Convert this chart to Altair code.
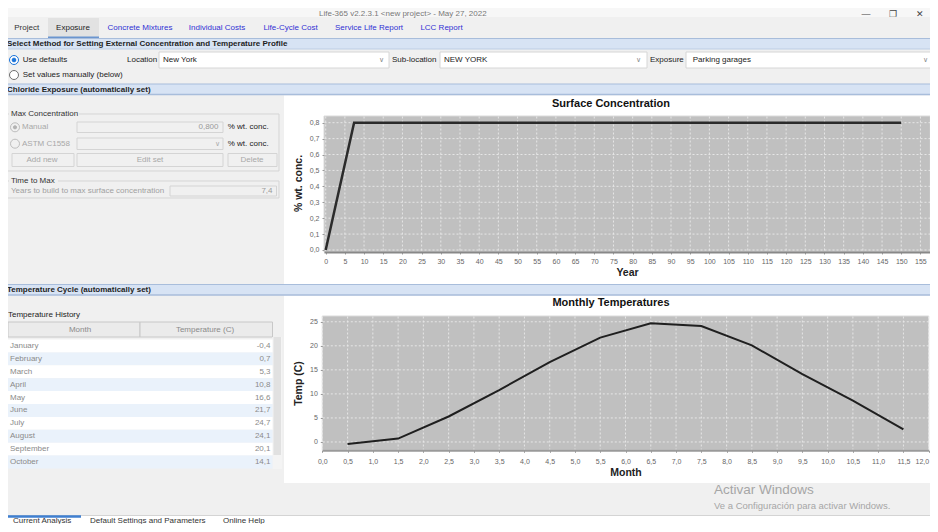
import altair as alt
import pandas as pd

# ---------------- chart data ----------------
years = [0.0, 7.4, 150.0]
surface_conc = [0.0, 0.8, 0.8]
year_ticks = [0, 5, 10, 15, 20, 25, 30, 35, 40, 45, 50, 55, 60, 65, 70, 75, 80,
              85, 90, 95, 100, 105, 110, 115, 120, 125, 130, 135, 140, 145, 150, 155]
conc_ticks = [0.0, 0.1, 0.2, 0.3, 0.4, 0.5, 0.6, 0.7, 0.8]

month_names = ["January", "February", "March", "April", "May", "June",
               "July", "August", "September", "October", "November", "December"]
month_pos = [0.5, 1.5, 2.5, 3.5, 4.5, 5.5, 6.5, 7.5, 8.5, 9.5, 10.5, 11.5]
temps = [-0.4, 0.7, 5.3, 10.8, 16.6, 21.7, 24.7, 24.1, 20.1, 14.1, 8.6, 2.6]
month_ticks = [0.0, 0.5, 1.0, 1.5, 2.0, 2.5, 3.0, 3.5, 4.0, 4.5, 5.0, 5.5, 6.0,
               6.5, 7.0, 7.5, 8.0, 8.5, 9.0, 9.5, 10.0, 10.5, 11.0, 11.5, 12.0]
temp_ticks = [0, 5, 10, 15, 20, 25]
visible_rows = 10

# ---------------- layout (page pixels of the reference window) ----------------
W, H, OFF = 922, 516, 8
FONT = "Liberation Sans"


def P(v):
    return round(v - OFF, 2)


max_conc_label = f"{max(surface_conc):.3f}".replace(".", ",")
time_to_max_label = f"{years[1]:.1f}".replace(".", ",")

rect_rows = [
    (0, 0, 938, 17, "#f7f7f7", "#f7f7f7", 0),
    (48, 18, 99, 38, "#e2e2e2", "#e2e2e2", 0),
    (0, 38.5, 938, 49, "#d7e3f4", "#d7e3f4", 0),
    (0, 84, 938, 94.5, "#d7e3f4", "#d7e3f4", 0),
    (0, 284.5, 938, 295, "#d7e3f4", "#d7e3f4", 0),
    (159, 52, 389, 68, "#ffffff", "#d6d6d6", 1),
    (440, 52, 647, 68, "#ffffff", "#d6d6d6", 1),
    (686, 52, 936, 68, "#ffffff", "#d6d6d6", 1),
    (284, 95.5, 938, 284, "#ffffff", "#ffffff", 0),
    (284, 295.5, 938, 483, "#ffffff", "#ffffff", 0),
    (324, 116, 930.3, 252, "#c0c0c0", "#dadada", 1),
    (322.3, 316, 928.7, 450.3, "#c0c0c0", "#dadada", 1),
    (7, 114, 279, 171, "transparent", "#d5d5d5", 1),
    (9, 109, 79, 119, "#f0f0f0", "#f0f0f0", 0),
    (7, 181, 279, 198, "transparent", "#d5d5d5", 1),
    (9, 176, 58, 186, "#f0f0f0", "#f0f0f0", 0),
    (77, 122, 223, 132.5, "#f0f0f0", "#d4d4d4", 1),
    (77, 138, 223, 149.5, "#f0f0f0", "#d4d4d4", 1),
    (12, 153.5, 74, 166.5, "#f0f0f0", "#d4d4d4", 1),
    (77, 153.5, 223, 166.5, "#f0f0f0", "#d4d4d4", 1),
    (228, 153.5, 277, 166.5, "#f0f0f0", "#d4d4d4", 1),
    (170, 186, 276.5, 196, "#f0f0f0", "#d4d4d4", 1),
    (8, 322, 140, 337, "#ebebeb", "#c8c8c8", 1),
    (140, 322, 272.5, 337, "#ebebeb", "#c8c8c8", 1),
    (272.5, 337, 282, 469, "#f4f4f4", "#f4f4f4", 0),
    (273.5, 337, 281, 455, "#e1e1e1", "#e1e1e1", 0),
    (0, 516, 938, 532, "#ffffff", "#ffffff", 0),
]

rule_rows = [
    (48, 37.5, 99, 37.5, "#6b95cf", 2),
    (0, 38.5, 938, 38.5, "#a8bddb", 1),
    (0, 49, 938, 49, "#bccde5", 1),
    (0, 84, 938, 84, "#a8bddb", 1),
    (0, 94.5, 938, 94.5, "#a8bddb", 1.5),
    (0, 284.5, 938, 284.5, "#a8bddb", 1),
    (0, 295, 938, 295, "#a8bddb", 1.5),
    (0, 515.5, 938, 515.5, "#d4d4d4", 1),
    (6, 516.5, 81, 516.5, "#3f7fd0", 2.5),
]

circle_rows = [
    (14, 60, 81, "#ffffff", "#1a73d9"),
    (14, 60, 14, "#1a73d9", "#1a73d9"),
    (14, 75, 81, "#ffffff", "#6e6e6e"),
    (15, 127.3, 81, "#f0f0f0", "#bdbdbd"),
    (15, 127.3, 10, "#b3b3b3", "#b3b3b3"),
    (15, 143.7, 81, "#f0f0f0", "#bdbdbd"),
]

BLUE = "#3030d4"
text_rows = [
    # text, x, y, size, color, weight, align
    ("Life-365 v2.2.3.1 <new project> -  May 27, 2022", 319, 14, 8, "#777777", "normal", "left"),
    ("—", 866, 14, 9, "#444444", "normal", "center"),
    ("❐", 893, 14, 9, "#444444", "normal", "center"),
    ("✕", 920, 14, 9, "#444444", "normal", "center"),
    ("Project", 26.7, 27.7, 8, "#333333", "normal", "center"),
    ("Exposure", 73, 27.7, 8, "#222222", "normal", "center"),
    ("Concrete Mixtures", 140, 27.7, 8, BLUE, "normal", "center"),
    ("Individual Costs", 217, 27.7, 8, BLUE, "normal", "center"),
    ("Life-Cycle Cost", 290.5, 27.7, 8, BLUE, "normal", "center"),
    ("Service Life Report", 369, 27.7, 8, BLUE, "normal", "center"),
    ("LCC Report", 441.5, 27.7, 8, BLUE, "normal", "center"),
    ("Select Method for Setting External Concentration and Temperature Profile", 7, 44, 8, "#1e1e1e", "bold", "left"),
    ("Use defaults", 22.7, 60, 8, "#222222", "normal", "left"),
    ("Set values manually (below)", 22.7, 75, 8, "#222222", "normal", "left"),
    ("Location", 127, 60, 8, "#222222", "normal", "left"),
    ("New York", 163, 60, 8, "#222222", "normal", "left"),
    ("Sub-location", 392, 60, 8, "#222222", "normal", "left"),
    ("NEW YORK", 444, 60, 8, "#222222", "normal", "left"),
    ("Exposure", 650, 60, 8, "#222222", "normal", "left"),
    ("Parking garages", 692.7, 60, 8, "#222222", "normal", "left"),
    ("∨", 381.7, 60, 7, "#888888", "normal", "center"),
    ("∨", 638, 60, 7, "#888888", "normal", "center"),
    ("∨", 925, 60, 7, "#888888", "normal", "center"),
    ("Chloride Exposure  (automatically set)", 7, 89.5, 8, "#1e1e1e", "bold", "left"),
    ("Max Concentration", 11, 114, 8, "#333333", "normal", "left"),
    ("Manual", 22, 127.3, 8, "#a8a8a8", "normal", "left"),
    (max_conc_label, 218.5, 127.3, 8, "#9a9a9a", "normal", "right"),
    ("% wt. conc.", 227.7, 127.3, 8, "#222222", "normal", "left"),
    ("ASTM C1558", 22, 143.7, 8, "#a8a8a8", "normal", "left"),
    ("∨", 217, 143.7, 7, "#aaaaaa", "normal", "center"),
    ("% wt. conc.", 227.7, 143.7, 8, "#222222", "normal", "left"),
    ("Add new", 42, 160, 8, "#a8a8a8", "normal", "center"),
    ("Edit set", 150, 160, 8, "#a8a8a8", "normal", "center"),
    ("Delete", 252, 160, 8, "#a8a8a8", "normal", "center"),
    ("Time to Max", 11, 180.7, 8, "#333333", "normal", "left"),
    ("Years to build to max surface concentration", 11, 190.9, 8, "#a0a0a0", "normal", "left"),
    (time_to_max_label, 272.5, 190.9, 8, "#9a9a9a", "normal", "right"),
    ("Temperature Cycle  (automatically set)", 7, 290, 8, "#1e1e1e", "bold", "left"),
    ("Temperature History", 8, 315, 8, "#222222", "normal", "left"),
    ("Month", 80, 329.5, 8, "#8a8a8a", "normal", "center"),
    ("Temperature (C)", 205, 329.5, 8, "#8a8a8a", "normal", "center"),
    ("Surface Concentration", 611, 104, 11, "#111111", "bold", "center"),
    ("Monthly Temperatures", 611, 303, 11, "#111111", "bold", "center"),
    ("Activar Windows", 714, 490, 13.5, "#a6a6a6", "normal", "left"),
    ("Ve a Configuración para activar Windows.", 714, 506, 9.5, "#a6a6a6", "normal", "left"),
    ("Current Analysis", 13, 520.5, 8, "#333333", "normal", "left"),
    ("Default Settings and Parameters", 90, 520.5, 8, "#333333", "normal", "left"),
    ("Online Help", 223, 520.5, 8, "#333333", "normal", "left"),
]

# ---------------- decoration layers (identity pixel scales) ----------------
rdf = pd.DataFrame(rect_rows, columns=["x0", "y0", "x1", "y1", "fill", "stroke", "sw"])
for c in ["x0", "y0", "x1", "y1"]:
    rdf[c] = rdf[c].map(P)
rects = alt.Chart(rdf).mark_rect(opacity=1).encode(
    x=alt.X("x0:Q", scale=None, axis=None), x2="x1:Q",
    y=alt.Y("y0:Q", scale=None, axis=None), y2="y1:Q",
    fill=alt.Fill("fill:N", scale=None, legend=None),
    stroke=alt.Stroke("stroke:N", scale=None, legend=None),
    strokeWidth=alt.StrokeWidth("sw:Q", scale=None, legend=None),
)

ldf = pd.DataFrame(rule_rows, columns=["x0", "y0", "x1", "y1", "col", "sw"])
for c in ["x0", "y0", "x1", "y1"]:
    ldf[c] = ldf[c].map(P)
rules = alt.Chart(ldf).mark_rule().encode(
    x=alt.X("x0:Q", scale=None, axis=None), x2="x1:Q",
    y=alt.Y("y0:Q", scale=None, axis=None), y2="y1:Q",
    color=alt.Color("col:N", scale=None, legend=None),
    strokeWidth=alt.StrokeWidth("sw:Q", scale=None, legend=None),
)

cdf = pd.DataFrame(circle_rows, columns=["cx", "cy", "sz", "fill", "stroke"])
cdf["cx"] = cdf["cx"].map(P)
cdf["cy"] = cdf["cy"].map(P)
circles = alt.Chart(cdf).mark_point(shape="circle", filled=True, opacity=1, strokeWidth=1).encode(
    x=alt.X("cx:Q", scale=None, axis=None),
    y=alt.Y("cy:Q", scale=None, axis=None),
    size=alt.Size("sz:Q", scale=None, legend=None),
    fill=alt.Fill("fill:N", scale=None, legend=None),
    stroke=alt.Stroke("stroke:N", scale=None, legend=None),
)

tdf = pd.DataFrame(text_rows, columns=["t", "tx", "ty", "fs", "col", "wt", "al"])
tdf["tx"] = tdf["tx"].map(P)
tdf["ty"] = tdf["ty"].map(P)
text_layers = []
for (wt, al), g in tdf.groupby(["wt", "al"]):
    text_layers.append(
        alt.Chart(g.reset_index(drop=True)).mark_text(
            font=FONT, fontWeight=wt, align=al, baseline="middle"
        ).encode(
            x=alt.X("tx:Q", scale=None, axis=None),
            y=alt.Y("ty:Q", scale=None, axis=None),
            text="t:N",
            color=alt.Color("col:N", scale=None, legend=None),
            size=alt.Size("fs:Q", scale=None, legend=None),
        )
    )

# ---------------- data scales ----------------
x1 = alt.Scale(domain=[-0.44, 157.5], range=[P(324), P(930)], nice=False, zero=False)
y1 = alt.Scale(domain=[-0.0126, 0.842], range=[P(252), P(116)], nice=False, zero=False)
x2s = alt.Scale(domain=[0, 12], range=[P(322.3), P(928.7)], nice=False, zero=False)
y2s = alt.Scale(domain=[-1.73, 26.2], range=[P(450.3), P(316)], nice=False, zero=False)
tbl = alt.Scale(domain=[0, visible_rows], range=[P(339.5), P(468.5)], nice=False, zero=False)

common = dict(
    zindex=1, grid=False, labelFont=FONT, labelFontSize=7, labelColor="#666666",
    tickColor="#9a9a9a", tickSize=2, titleFont=FONT, titleFontSize=10.5,
    titleFontWeight="bold", titleColor="#222222", labelOverlap=False,
    labelFlush=False, labelBound=False,
)
comma1 = "replace(format(datum.value, '.1f'), '.', ',')"

ax_x1 = alt.Axis(orient="bottom", offset=P(252) - H, values=year_ticks, format="d",
                 domain=True, domainColor="#888888", domainWidth=2, labelPadding=3,
                 title="Year", titleY=20.5, titleBaseline="middle", **common)
ax_y1 = alt.Axis(orient="left", offset=-P(324), values=conc_ticks, labelExpr=comma1,
                 domain=False, labelPadding=3, title="% wt. conc.",
                 titleX=-26, titleY=P(183), titleAngle=270, titleBaseline="middle", **common)
ax_x2 = alt.Axis(orient="bottom", offset=P(450.3) - H, values=month_ticks, labelExpr=comma1,
                 labelAlign={"condition": {"test": "datum.value >= 12", "value": "right"},
                             "value": "center"},
                 domain=True, domainColor="#9a9a9a", domainWidth=2, labelPadding=5,
                 title="Month", titleY=21.7, titleBaseline="middle", **common)
ax_y2 = alt.Axis(orient="left", offset=-P(322.3), values=temp_ticks, format="d",
                 domain=False, labelPadding=3, title="Temp (C)",
                 titleX=-24.3, titleY=P(383), titleAngle=270, titleBaseline="middle", **common)

GRID = dict(color="#e6e6e6", strokeDash=[2, 2], strokeWidth=1)

vgrid1 = alt.Chart(pd.DataFrame({"yt": year_ticks})).mark_rule(**GRID).encode(
    x=alt.X("yt:Q", scale=x1, axis=None), y=alt.value(P(116.5)), y2=alt.value(P(251)))
hgrid1 = alt.Chart(pd.DataFrame({"ct": conc_ticks})).mark_rule(**GRID).encode(
    y=alt.Y("ct:Q", scale=y1, axis=None), x=alt.value(P(324.5)), x2=alt.value(P(930)))
vgrid2 = alt.Chart(pd.DataFrame({"mt": month_ticks})).mark_rule(**GRID).encode(
    x=alt.X("mt:Q", scale=x2s, axis=None), y=alt.value(P(316.5)), y2=alt.value(P(449.5)))
hgrid2 = alt.Chart(pd.DataFrame({"tt": temp_ticks})).mark_rule(**GRID).encode(
    y=alt.Y("tt:Q", scale=y2s, axis=None), x=alt.value(P(322.8)), x2=alt.value(P(928.5)))

surface_df = pd.DataFrame({"Year": years, "Conc": surface_conc})
line1 = alt.Chart(surface_df).mark_line(color="#2b2b2b", strokeWidth=2.5).encode(
    x=alt.X("Year:Q", scale=x1, axis=ax_x1),
    y=alt.Y("Conc:Q", scale=y1, axis=ax_y1),
)

temp_df = pd.DataFrame({"Month": month_pos, "Temp": temps})
line2 = alt.Chart(temp_df).mark_line(color="#1f1f1f", strokeWidth=2).encode(
    x=alt.X("Month:Q", scale=x2s, axis=ax_x2),
    y=alt.Y("Temp:Q", scale=y2s, axis=ax_y2),
)

table_df = pd.DataFrame({
    "name": month_names,
    "label": [f"{t:.1f}".replace(".", ",") for t in temps],
    "row": list(range(len(month_names))),
})
table_base = alt.Chart(table_df).transform_filter(
    f"datum.row < {visible_rows}"
).transform_calculate(row_end="datum.row + 1", row_mid="datum.row + 0.5")

stripes = table_base.mark_rect().encode(
    x=alt.value(P(8)), x2=alt.value(P(272.5)),
    y=alt.Y("row:Q", scale=tbl, axis=None), y2="row_end:Q",
    fill=alt.condition("datum.row % 2 == 1", alt.value("#eaf2fb"), alt.value("#ffffff")),
)
names_txt = table_base.mark_text(font=FONT, fontSize=8, align="left", baseline="middle",
                                 color="#8a8a8a").encode(
    x=alt.value(P(10)), y=alt.Y("row_mid:Q", scale=tbl, axis=None), text="name:N")
vals_txt = table_base.mark_text(font=FONT, fontSize=8, align="right", baseline="middle",
                                color="#8a8a8a").encode(
    x=alt.value(P(270.5)), y=alt.Y("row_mid:Q", scale=tbl, axis=None), text="label:N")

chart = alt.layer(
    rects, rules, vgrid1, hgrid1, vgrid2, hgrid2, line1, line2,
    stripes, names_txt, vals_txt, circles, *text_layers
).resolve_scale(
    x="independent", y="independent"
).properties(
    width=W, height=H, padding=0,
    autosize=alt.AutoSizeParams(type="none"),
    background="#f0f0f0",
).configure_view(fill="#f0f0f0", strokeWidth=0)

chart.save("out.html", embed_options={"renderer": "svg", "actions": False})
